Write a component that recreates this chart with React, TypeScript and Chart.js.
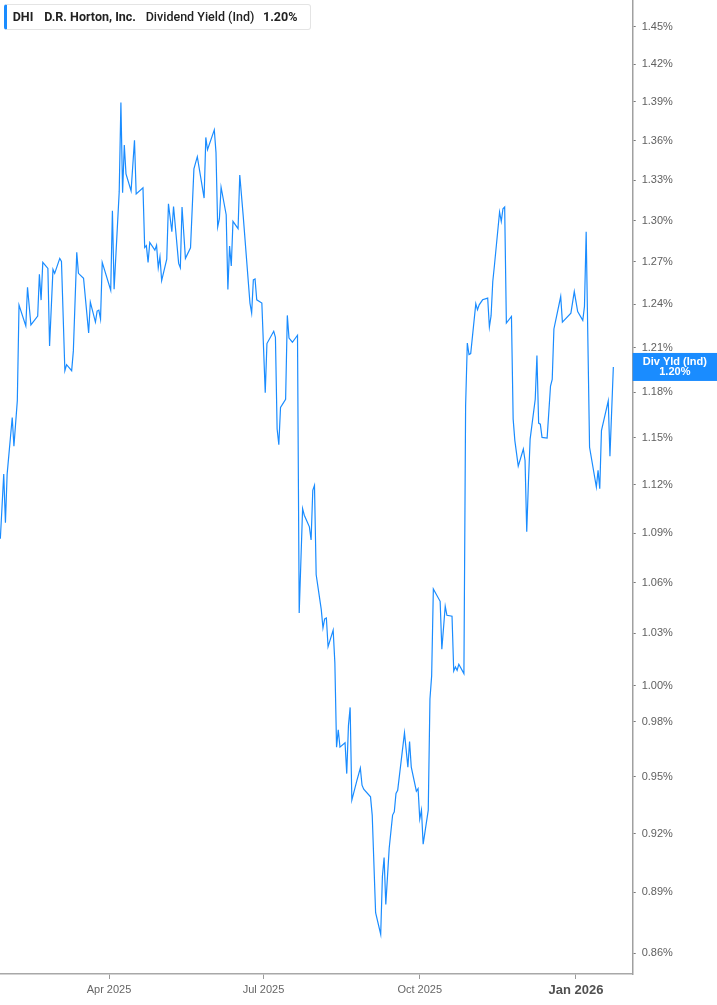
import { useEffect, useRef } from 'react'
import { Chart, registerables } from 'chart.js'

Chart.register(...registerables)

const DAY = 86400000
const LINE_BLUE = '#1a8cff'
const AXIS_FONT = '"Liberation Sans", Arial, sans-serif'

// trading sessions
const dates = [
  '2025-01-27', '2025-01-29', '2025-01-30', '2025-01-31', '2025-02-03', '2025-02-04', '2025-02-06', '2025-02-07',
  '2025-02-11', '2025-02-12', '2025-02-14', '2025-02-18', '2025-02-19', '2025-02-20', '2025-02-21', '2025-02-24',
  '2025-02-25', '2025-02-27', '2025-02-28', '2025-03-03', '2025-03-04', '2025-03-06', '2025-03-07', '2025-03-10',
  '2025-03-11', '2025-03-13', '2025-03-14', '2025-03-17', '2025-03-20', '2025-03-21', '2025-03-24', '2025-03-25',
  '2025-03-26', '2025-03-27', '2025-03-28', '2025-04-02', '2025-04-03', '2025-04-04', '2025-04-07', '2025-04-08',
  '2025-04-09', '2025-04-10', '2025-04-11', '2025-04-14', '2025-04-16', '2025-04-17', '2025-04-21', '2025-04-22',
  '2025-04-23', '2025-04-24', '2025-04-25', '2025-04-28', '2025-04-29', '2025-04-30', '2025-05-01', '2025-05-02',
  '2025-05-05', '2025-05-06', '2025-05-08', '2025-05-09', '2025-05-12', '2025-05-13', '2025-05-14', '2025-05-16',
  '2025-05-19', '2025-05-21', '2025-05-23', '2025-05-27', '2025-05-28', '2025-05-29', '2025-06-02', '2025-06-03',
  '2025-06-04', '2025-06-05', '2025-06-06', '2025-06-09', '2025-06-10', '2025-06-11', '2025-06-12', '2025-06-13',
  '2025-06-16', '2025-06-17', '2025-06-19', '2025-06-23', '2025-06-24', '2025-06-25', '2025-06-26', '2025-06-27',
  '2025-06-30', '2025-07-02', '2025-07-03', '2025-07-07', '2025-07-08', '2025-07-09', '2025-07-10', '2025-07-11',
  '2025-07-14', '2025-07-15', '2025-07-16', '2025-07-18', '2025-07-21', '2025-07-22', '2025-07-24', '2025-07-25',
  '2025-07-28', '2025-07-29', '2025-07-30', '2025-07-31', '2025-08-01', '2025-08-04', '2025-08-05', '2025-08-06',
  '2025-08-07', '2025-08-08', '2025-08-11', '2025-08-12', '2025-08-13', '2025-08-14', '2025-08-15', '2025-08-18',
  '2025-08-19', '2025-08-20', '2025-08-21', '2025-08-22', '2025-08-25', '2025-08-27', '2025-08-28', '2025-08-29',
  '2025-09-02', '2025-09-03', '2025-09-05', '2025-09-08', '2025-09-09', '2025-09-10', '2025-09-11', '2025-09-12',
  '2025-09-13', '2025-09-15', '2025-09-16', '2025-09-17', '2025-09-18', '2025-09-22', '2025-09-24', '2025-09-25',
  '2025-09-26', '2025-09-29', '2025-09-30', '2025-10-01', '2025-10-02', '2025-10-03', '2025-10-06', '2025-10-07',
  '2025-10-08', '2025-10-09', '2025-10-13', '2025-10-14', '2025-10-16', '2025-10-17', '2025-10-20', '2025-10-21',
  '2025-10-22', '2025-10-23', '2025-10-24', '2025-10-27', '2025-10-28', '2025-10-29', '2025-10-30', '2025-10-31',
  '2025-11-03', '2025-11-04', '2025-11-05', '2025-11-07', '2025-11-10', '2025-11-11', '2025-11-12', '2025-11-13',
  '2025-11-14', '2025-11-17', '2025-11-18', '2025-11-19', '2025-11-20', '2025-11-21', '2025-11-24', '2025-11-25',
  '2025-11-26', '2025-11-28', '2025-12-01', '2025-12-02', '2025-12-03', '2025-12-04', '2025-12-05', '2025-12-08',
  '2025-12-09', '2025-12-10', '2025-12-11', '2025-12-12', '2025-12-15', '2025-12-17', '2025-12-18', '2025-12-19',
  '2025-12-23', '2025-12-24', '2025-12-29', '2025-12-31', '2026-01-02', '2026-01-05', '2026-01-06', '2026-01-07',
  '2026-01-09', '2026-01-13', '2026-01-14', '2026-01-15', '2026-01-16', '2026-01-20', '2026-01-21', '2026-01-23',
]

// dividend yield (ind), %
const yieldPct = [
  1.0865, 1.1268, 1.0963, 1.1268, 1.1634, 1.1446, 1.1745, 1.2395,
  1.2250, 1.2520, 1.2257, 1.2319, 1.2612, 1.2430, 1.2697, 1.2654,
  1.2113, 1.2647, 1.2619, 1.2726, 1.2704, 1.1945, 1.1985, 1.1945,
  1.2079, 1.2769, 1.2619, 1.2584, 1.2202, 1.2416, 1.2277, 1.2353,
  1.2360, 1.2298, 1.2697, 1.2499, 1.3072, 1.2506, 1.3212, 1.3896,
  1.3205, 1.3565, 1.3347, 1.3220, 1.3603, 1.3197, 1.3242, 1.2804,
  1.2818, 1.2697, 1.2840, 1.2785, 1.2821, 1.2659, 1.2737, 1.2567,
  1.2720, 1.3124, 1.2918, 1.3104, 1.2690, 1.2659, 1.3100, 1.2726,
  1.2802, 1.3384, 1.3477, 1.3166, 1.3624, 1.3530, 1.3682, 1.3510,
  1.2954, 1.3014, 1.3247, 1.3043, 1.2505, 1.2814, 1.2671, 1.2994,
  1.2941, 1.3339, 1.3038, 1.2409, 1.2339, 1.2572, 1.2579, 1.2432,
  1.2409, 1.1798, 1.2129, 1.2213, 1.2172, 1.1558, 1.1457, 1.1700,
  1.1754, 1.2323, 1.2167, 1.2138, 1.2186, 1.0419, 1.1051, 1.1010,
  1.0938, 1.0857, 1.1166, 1.1197, 1.0646, 1.0439, 1.0332, 1.0384,
  1.0390, 1.0223, 1.0319, 1.0131, 0.9660, 0.9755, 0.9660, 0.9684,
  0.9517, 0.9778, 0.9879, 0.9376, 0.9481, 0.9547, 0.9455, 0.9434,
  0.9393, 0.9297, 0.8799, 0.8692, 0.8981, 0.9077, 0.8840, 0.8981,
  0.9125, 0.9297, 0.9314, 0.9411, 0.9428, 0.9738, 0.9552, 0.9691,
  0.9552, 0.9423, 0.9437, 0.9276, 0.9323, 0.9146, 0.9323, 0.9926,
  1.0056, 1.0561, 1.0488, 1.0208, 1.0459, 1.0406, 1.0400, 1.0084,
  1.0107, 1.0088, 1.0122, 1.0069, 1.1711, 1.2133, 1.2054, 1.2061,
  1.2404, 1.2362, 1.2397, 1.2432, 1.2444, 1.2243, 1.2321, 1.2561,
  1.2678, 1.3063, 1.2994, 1.3087, 1.3100, 1.2270, 1.2316, 1.1623,
  1.1483, 1.1319, 1.1429, 1.1355, 1.0908, 1.1218, 1.1493, 1.1754,
  1.2047, 1.1597, 1.1590, 1.1504, 1.1500, 1.1842, 1.1886, 1.2229,
  1.2455, 1.2277, 1.2339, 1.2490, 1.2350, 1.2289, 1.2386, 1.2918,
  1.1440, 1.1186, 1.1292, 1.1176, 1.1548, 1.1743, 1.1382, 1.1970,
]

const yTicks = [
  1.45, 1.42, 1.39, 1.36, 1.33, 1.30, 1.27, 1.24, 1.21, 1.18, 1.15,
  1.12, 1.09, 1.06, 1.03, 1.00, 0.98, 0.95, 0.92, 0.89, 0.86,
]
const xTicks = ['2025-04-01', '2025-07-01', '2025-10-01', '2026-01-01']
const MONTHS = ['Jan', 'Feb', 'Mar', 'Apr', 'May', 'Jun', 'Jul', 'Aug', 'Sep', 'Oct', 'Nov', 'Dec']

const isYearStart = (ms: number) => {
  const d = new Date(ms)
  return d.getUTCMonth() === 0 && d.getUTCDate() === 1
}

// blue value tag on the right axis
const lastValueTag = {
  id: 'lastValueTag',
  afterDraw(chart: any) {
    const { ctx, chartArea, scales } = chart
    const v = yieldPct[yieldPct.length - 1]
    const y = scales.y.getPixelForValue(v)
    const x0 = chartArea.right
    const w = chart.width - x0
    ctx.save()
    ctx.fillStyle = LINE_BLUE
    ctx.fillRect(x0, y - 14, w, 28)
    ctx.fillStyle = '#ffffff'
    ctx.font = `bold 11px ${AXIS_FONT}`
    ctx.textAlign = 'center'
    ctx.textBaseline = 'middle'
    ctx.fillText('Div Yld (Ind)', x0 + w / 2, y - 4.5)
    ctx.fillText(v.toFixed(2) + '%', x0 + w / 2, y + 5.5)
    ctx.restore()
  },
}

export default function App() {
  const canvasRef = useRef<HTMLCanvasElement>(null)

  useEffect(() => {
    document.body.style.margin = '0'
    if (!canvasRef.current) return

    const points = dates.map((d, i) => ({ x: Date.parse(d), y: yieldPct[i] }))
    const xMin = Date.parse(dates[0]) - 0.2 * DAY
    const xMax = Date.parse('2026-02-03') + 0.4 * DAY

    const chart = new Chart(canvasRef.current, {
      type: 'line',
      data: {
        datasets: [
          {
            label: 'Dividend Yield (Ind)',
            data: points,
            borderColor: LINE_BLUE,
            borderWidth: 1.2,
            pointRadius: 0,
            tension: 0,
            fill: false,
          },
        ],
      },
      options: {
        animation: false,
        responsive: true,
        maintainAspectRatio: false,
        layout: { padding: 0, autoPadding: false },
        plugins: {
          legend: { display: false },
          tooltip: { enabled: false },
        },
        scales: {
          x: {
            type: 'linear',
            min: xMin,
            max: xMax,
            afterBuildTicks: (scale: any) => {
              scale.ticks = xTicks.map((d) => ({ value: Date.parse(d) }))
            },
            afterFit: (scale: any) => {
              scale.height = 31
              scale.paddingLeft = 0
              scale.paddingRight = 0
            },
            grid: {
              display: true,
              drawOnChartArea: false,
              drawTicks: true,
              tickLength: 5,
              color: '#9a9a9a',
            },
            border: { display: true, color: '#a8a8a8', width: 1.5 },
            ticks: {
              autoSkip: false,
              maxRotation: 0,
              padding: 4,
              color: (c: any) => (c.tick && isYearStart(c.tick.value) ? '#505050' : '#666666'),
              font: (c: any) =>
                c.tick && isYearStart(c.tick.value)
                  ? { family: AXIS_FONT, size: 13, weight: 'bold' }
                  : { family: AXIS_FONT, size: 11 },
              callback: (value: any) => {
                const d = new Date(Number(value))
                return `${MONTHS[d.getUTCMonth()]} ${d.getUTCFullYear()}`
              },
            },
          },
          y: {
            type: 'logarithmic',
            position: 'right',
            min: 0.8524,
            max: 1.4722,
            afterBuildTicks: (scale: any) => {
              scale.ticks = yTicks.map((v) => ({ value: v }))
            },
            afterFit: (scale: any) => {
              scale.width = 84.3
              scale.paddingTop = 0
              scale.paddingBottom = 0
            },
            grid: {
              display: true,
              drawOnChartArea: false,
              drawTicks: true,
              tickLength: 3,
              color: '#777777',
            },
            border: { display: true, color: '#a0a0a0', width: 1.5 },
            ticks: {
              autoSkip: false,
              padding: 6,
              color: '#606060',
              font: { family: AXIS_FONT, size: 11 },
              callback: (value: any) => Number(value).toFixed(2) + '%',
            },
          },
        },
      },
      plugins: [lastValueTag],
    } as any)

    return () => {
      chart.destroy()
    }
  }, [])

  return (
    <div style={{ position: 'relative', width: 717, height: 1005 }}>
      <canvas ref={canvasRef} />
      {/* series legend box */}
      <div
        style={{
          position: 'absolute',
          left: 4,
          top: 4,
          width: 307,
          height: 26,
          boxSizing: 'border-box',
          background: '#ffffff',
          border: '1px solid #e4e4e4',
          borderLeft: `3px solid ${LINE_BLUE}`,
          borderRadius: 3,
          fontFamily: 'Roboto, "Liberation Sans", sans-serif',
          fontSize: 12.5,
          color: '#222222',
          lineHeight: '24px',
          whiteSpace: 'nowrap',
        }}
      >
        <span style={{ position: 'absolute', left: 5.7, fontWeight: 700 }}>DHI</span>
        <span style={{ position: 'absolute', left: 37.3, fontWeight: 700 }}>D.R. Horton, Inc.</span>
        <span style={{ position: 'absolute', left: 138.7, fontWeight: 500 }}>Dividend Yield (Ind)</span>
        <span style={{ position: 'absolute', left: 256, fontWeight: 700 }}>1.20%</span>
      </div>
    </div>
  )
}
